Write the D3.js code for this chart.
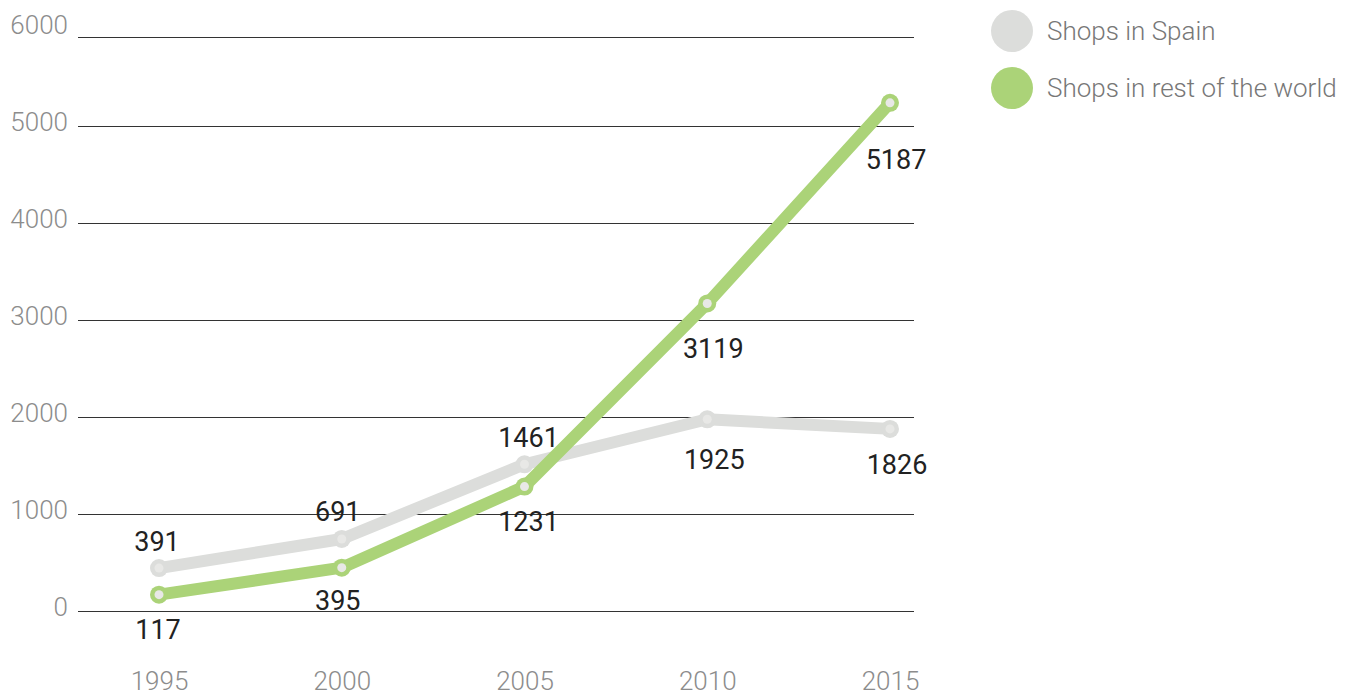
<!DOCTYPE html>
<html>
<head>
<meta charset="utf-8">
<script src="https://cdn.jsdelivr.net/npm/d3@7"></script>
<style>
  html, body { margin: 0; padding: 0; background: #ffffff; }
  svg { display: block; }
  text { font-family: Roboto, "Noto Sans", sans-serif; }
  text.light { font-family: "Roboto Light", Roboto, "Noto Sans", sans-serif; font-weight: 300; }
</style>
</head>
<body>
<svg id="chart" width="1357" height="695"></svg>
<script>
// ---- data ----
const years = [1995, 2000, 2005, 2010, 2015];
const shopsSpain = [391, 691, 1461, 1925, 1826];
const shopsRestWorld = [117, 395, 1231, 3119, 5187];
const yTicks = [0, 1000, 2000, 3000, 4000, 5000, 6000];
const seriesNames = ["Shops in Spain", "Shops in rest of the world"];

// ---- layout / style (not data) ----
const colors = ["#dcdddb", "#abd378"];
const dotInner = "#e8e8e6";
// label placement nudges per point [dx, dy] from the point centre
const labelNudgeSpain = [[-2, -27], [-4, -27], [4, -27], [7, 40], [7, 36]];
const labelNudgeWorld = [[-1, 35], [-4, 33], [4, 35], [6, 45], [6, 57]];

const svg = d3.select("#chart");
const x = d3.scalePoint().domain(years).range([159, 890]);
const y = d3.scaleLinear().domain([0, 6000]).range([606, 24]);
const gridOffset = 5;

// gridlines + y labels
const yAxis = d3.axisLeft(y).tickValues(yTicks).tickSize(0).tickPadding(0).tickFormat(d3.format("d"));
const gy = svg.append("g").attr("transform", "translate(68,0)").call(yAxis);
gy.select(".domain").remove();
gy.selectAll("text")
  .attr("class", "light")
  .attr("fill", "#8c8c8c")
  .style("font-size", "26px")
  .attr("dy", "0.38em");

const grid = svg.append("g");
grid.selectAll("line").data(yTicks).join("line")
  .attr("x1", 78).attr("x2", 914)
  .attr("y1", d => Math.round(y(d) + gridOffset + (d === 6000 ? 8 : 0)) + 0.5)
  .attr("y2", d => Math.round(y(d) + gridOffset + (d === 6000 ? 8 : 0)) + 0.5)
  .attr("stroke", "#333").attr("stroke-width", 1.2);

// x labels
const xAxis = d3.axisBottom(x).tickSize(0).tickPadding(0).tickFormat(d3.format("d"));
const gx = svg.append("g").attr("transform", "translate(0,681)").call(xAxis);
gx.select(".domain").remove();
gx.selectAll("text")
  .attr("class", "light")
  .attr("fill", "#8c8c8c")
  .style("font-size", "26px")
  .attr("dy", "0.35em");

// lines
const series = [shopsSpain, shopsRestWorld];
const line = d3.line().x((d, i) => x(years[i])).y(d => y(d));
series.forEach((s, k) => {
  svg.append("path").datum(s)
    .attr("d", line)
    .attr("fill", "none")
    .attr("stroke", colors[k])
    .attr("stroke-width", 12)
    .attr("stroke-linejoin", "round")
    .attr("stroke-linecap", "round");
  const g = svg.append("g");
  g.selectAll("circle.o").data(s).join("circle")
    .attr("class", "o")
    .attr("cx", (d, i) => x(years[i])).attr("cy", d => y(d))
    .attr("r", 9).attr("fill", colors[k]);
  g.selectAll("circle.i").data(s).join("circle")
    .attr("class", "i")
    .attr("cx", (d, i) => x(years[i])).attr("cy", d => y(d))
    .attr("r", 4.5).attr("fill", dotInner);
});

// value labels
const nudges = [labelNudgeSpain, labelNudgeWorld];
series.forEach((s, k) => {
  svg.append("g").selectAll("text").data(s).join("text")
    .attr("x", (d, i) => x(years[i]) + nudges[k][i][0])
    .attr("y", (d, i) => y(d) + nudges[k][i][1])
    .attr("dy", "0.35em")
    .attr("text-anchor", "middle")
    .attr("fill", "#222")
    .style("font-size", "27px")
    .style("font-weight", 400)
    .text(d => d);
});

// legend
const legend = svg.append("g");
seriesNames.forEach((name, k) => {
  const cy = 31 + k * 57;
  legend.append("circle").attr("cx", 1012).attr("cy", cy).attr("r", 21).attr("fill", colors[k]);
  legend.append("text").attr("class", "light").attr("x", 1047).attr("y", cy).attr("dy", "0.35em")
    .attr("fill", "#777")
    .style("font-size", "26px")
    .text(name);
});
</script>
</body>
</html>
